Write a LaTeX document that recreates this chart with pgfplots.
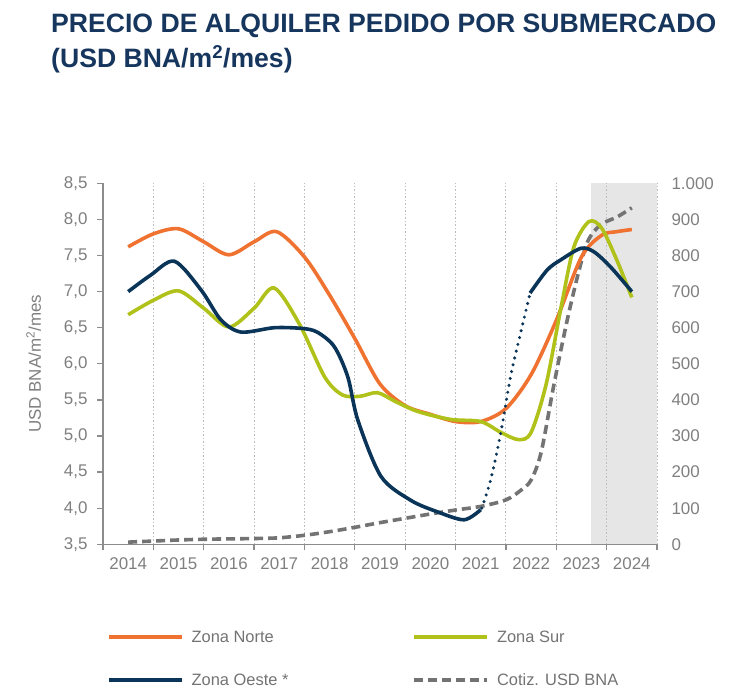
\documentclass[border=0pt]{standalone}
\usepackage{fontspec}
\setmainfont{Liberation Sans}
\usepackage{pgfplots}
\pgfplotsset{compat=1.18}
\definecolor{titleblue}{HTML}{17365D}
\definecolor{norte}{HTML}{EF7230}
\definecolor{sur}{HTML}{B0C21A}
\definecolor{oeste}{HTML}{0B3558}
\definecolor{cotiz}{HTML}{737373}
\definecolor{shadegray}{HTML}{E6E6E6}
\definecolor{gridgray}{HTML}{BDBDBD}
\definecolor{axisgray}{HTML}{8C8C8C}
\definecolor{labelgray}{HTML}{7F7F7F}
\definecolor{legendgray}{HTML}{737373}
\begin{document}
\begin{tikzpicture}
\path[use as bounding box] (0bp,0bp) rectangle (730bp,-700bp);
\node[anchor=base west, inner sep=0pt, text=titleblue, font=\fontsize{26.7}{30}\selectfont\bfseries] at (51bp,-32bp) {PRECIO DE ALQUILER PEDIDO POR SUBMERCADO};
\node[anchor=base west, inner sep=0pt, text=titleblue, font=\fontsize{26.7}{30}\selectfont\bfseries] at (51bp,-67bp) {(USD BNA/m\textsuperscript{2}/mes)};

% shaded forecast band
\begin{axis}[
  at={(103bp,-544.3bp)}, anchor=south west,
  scale only axis, width=554bp, height=361bp,
  xmin=-0.5, xmax=10.5, ymin=0, ymax=1000,
  hide axis,
]
\addplot[fill=shadegray, draw=none] coordinates {(9.18,1000) (10.5,1000)} \closedcycle;
\end{axis}

% right axis, x axis, grid, exchange rate
\begin{axis}[
  at={(103bp,-544.3bp)}, anchor=south west,
  scale only axis, width=554bp, height=361bp,
  xmin=-0.5, xmax=10.5, ymin=0, ymax=1000,
  axis x line*=bottom, axis y line*=right,
  x axis line style={draw=axisgray, line width=1.3bp},
  y axis line style={draw=none},
  xtick={-0.5,0.5,...,10.5}, xticklabels={},
  xtick style={draw=axisgray, line width=1.3bp},
  tick align=outside, major tick length=6bp,
  xmajorgrids,
  major grid style={draw=gridgray, line width=1bp, dash pattern=on 1.5bp off 2bp},
  extra x ticks={0,1,2,3,4,5,6,7,8,9,10},
  extra x tick labels={2014,2015,2016,2017,2018,2019,2020,2021,2022,2023,2024},
  extra x tick style={grid=none, major tick length=0pt},
  xticklabel style={yshift=-10bp},
  ytick={0,100,...,1000},
  ytick style={draw=none},
  yticklabel style={xshift=5bp},
  tick label style={font=\fontsize{17}{17}\selectfont, text=labelgray},
  /pgf/number format/assume math mode=true,
  /pgf/number format/1000 sep={.},
]
\addplot[cotiz, line width=3.6bp, dash pattern=on 9bp off 5bp, smooth, tension=0.5] coordinates {
(0,6) (0.5,9) (1,12) (1.5,14) (2,15) (2.5,16) (3,18) (3.5,25) (4,35) (4.5,47) (5,60) (5.5,72) (6,84) (6.5,95) (7,105) (7.5,123) (7.8,150) (8,178) (8.2,255) (8.45,440) (8.7,610) (8.92,741) (9.12,838) (9.38,885) (9.71,907) (10,932)
};
\end{axis}

% left axis, rent prices
\begin{axis}[
  at={(103bp,-544.3bp)}, anchor=south west,
  scale only axis, width=554bp, height=361bp,
  xmin=-0.5, xmax=10.5, ymin=3.5, ymax=8.5,
  axis x line=none, axis y line*=left,
  y axis line style={draw=axisgray, line width=1.3bp},
  ytick={3.5,4,4.5,5,5.5,6,6.5,7,7.5,8,8.5},
  ytick style={draw=axisgray, line width=1.3bp},
  tick align=outside, major tick length=6bp,
  tick label style={font=\fontsize{17}{17}\selectfont, text=labelgray},
  yticklabel style={xshift=-6bp, /pgf/number format/.cd, fixed, fixed zerofill, precision=1, use comma, assume math mode=true},
  ylabel={USD BNA/m\textsuperscript{2}/mes},
  ylabel style={at={(axis description cs:-0.125,0.5)}, anchor=center, font=\fontsize{17}{17}\selectfont, text=labelgray},
  legend columns=2,
  legend cell align=left,
  legend image code/.code={\draw[#1] (0bp,0bp) -- (73bp,0bp);},
  legend style={draw=none, fill=none, at={(axis description cs:0.0072,-0.24)}, anchor=north west,
    inner sep=0pt, outer sep=0pt, font=\fontsize{16.5}{16.5}\selectfont, text=legendgray, row sep=31bp,
    /tikz/every odd column/.append style={column sep=8bp},
    /tikz/every even column/.append style={column sep=124bp},
    nodes={inner sep=0pt, text height=12bp, text depth=0bp, anchor=west}},
]
\addplot[norte, line width=3.6bp, smooth, tension=0.5] coordinates {
(0,7.62) (0.5,7.80) (1,7.87) (1.5,7.69) (2,7.51) (2.5,7.69) (2.95,7.83) (3.5,7.48) (4,6.95) (4.5,6.35) (5,5.72) (5.5,5.42) (6,5.3) (6.5,5.2) (7,5.2) (7.5,5.38) (8,5.85) (8.5,6.6) (9,7.48) (9.4,7.78) (9.7,7.83) (10,7.86)
};
\addplot[sur, line width=3.6bp, smooth, tension=0.5] coordinates {
(0,6.68) (0.5,6.88) (1,7.01) (1.5,6.77) (2,6.51) (2.5,6.77) (2.9,7.05) (3.4,6.55) (3.9,5.82) (4.25,5.57) (4.6,5.55) (4.95,5.6) (5.3,5.48) (5.75,5.34) (6.4,5.23) (7,5.2) (7.4,5.05) (7.75,4.95) (8.0,5.05) (8.3,5.72) (8.6,6.8) (8.85,7.62) (9.15,7.97) (9.4,7.88) (9.7,7.44) (10,6.92)
};
\addplot[oeste, line width=3.6bp, smooth, tension=0.5] coordinates {
(0,7.0) (0.45,7.23) (0.92,7.42) (1.45,7.02) (1.84,6.61) (2.24,6.44) (2.9,6.5) (3.45,6.49) (3.75,6.44) (4.09,6.24) (4.36,5.82) (4.56,5.22) (5.02,4.44) (5.61,4.11) (6.14,3.95) (6.67,3.84) (7.0,3.98)
};
\addplot[oeste, line width=3.6bp, smooth, tension=0.5, forget plot] coordinates {
(7.98,6.98) (8.32,7.3) (8.59,7.44) (8.99,7.6) (9.25,7.55) (9.58,7.34) (10,7.0)
};
\addplot[oeste, line width=3.4bp, line cap=round, dash pattern=on 0bp off 7bp, smooth, tension=0.5, forget plot] coordinates {
(7.02,4.0) (7.2,4.4) (7.4,5.05) (7.6,5.85) (7.8,6.45) (7.98,6.98)
};
\addlegendimage{cotiz, line width=3.6bp, dash pattern=on 9bp off 5bp}
\legend{Zona Norte, Zona Sur, Zona Oeste *, Cotiz. USD BNA}
\end{axis}
\end{tikzpicture}
\end{document}
